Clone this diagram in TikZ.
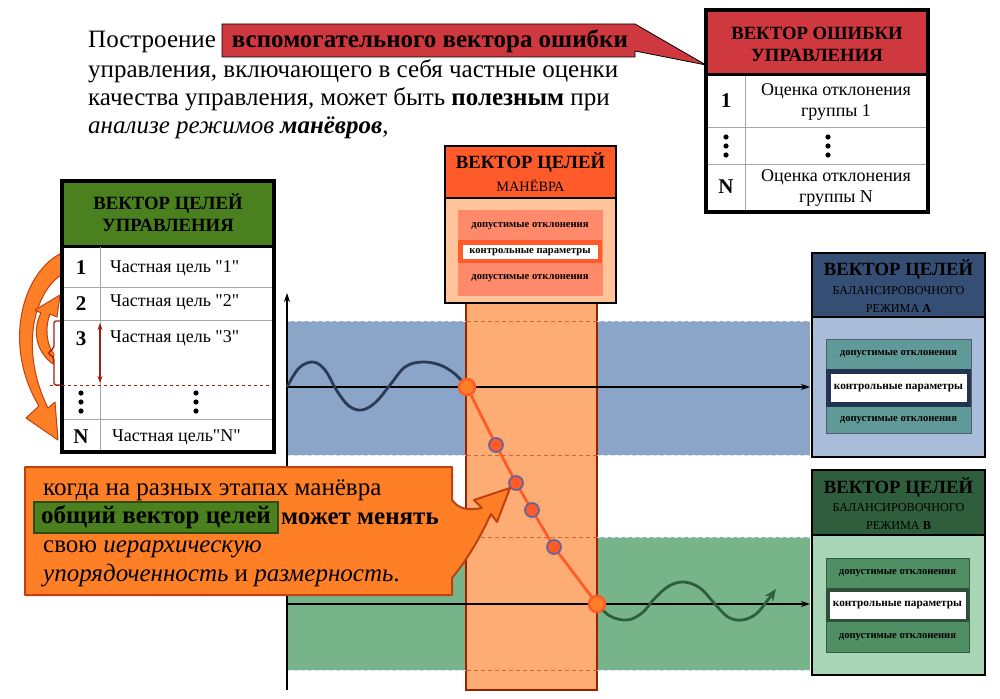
\documentclass[tikz,border=0pt]{standalone}
\usepackage{fontspec}
\setmainfont{Liberation Serif}
\usetikzlibrary{arrows.meta,calc}
\definecolor{blueband}{HTML}{8AA5C8}
\definecolor{greenband}{HTML}{78B48A}
\definecolor{colfill}{HTML}{FDAD74}
\definecolor{colborder}{HTML}{9B2200}
\definecolor{orA}{HTML}{FF7F27}
\definecolor{redor}{HTML}{FF5A2A}
\definecolor{peach}{HTML}{FFC499}
\definecolor{salmon}{HTML}{FF8A6B}
\definecolor{navywave}{HTML}{2B3A55}
\definecolor{greenwave}{HTML}{2E5E3C}
\definecolor{hdrgreen}{HTML}{4A801E}
\definecolor{errred}{HTML}{D0383F}
\definecolor{Ahdr}{HTML}{354E73}
\definecolor{Abody}{HTML}{A9BDD9}
\definecolor{Ateal}{HTML}{5F9A98}
\definecolor{Adark}{HTML}{233452}
\definecolor{Bhdr}{HTML}{2F5E3D}
\definecolor{Bbody}{HTML}{A8D5B5}
\definecolor{Binner}{HTML}{4F8F63}
\definecolor{Bdark}{HTML}{2F4F3A}
\definecolor{brown}{HTML}{A02010}
\definecolor{arrowedge}{HTML}{C0400F}
\newcommand\qd{\textquotedbl}
\tikzset{
  big/.style={font=\fontsize{25}{28}\selectfont, inner sep=0pt},
  bigb/.style={font=\bfseries\fontsize{25}{28}\selectfont, inner sep=0pt},
  hdr/.style={font=\bfseries\fontsize{18.7}{22}\selectfont, align=center, inner sep=0pt},
  cell/.style={font=\fontsize{18}{20}\selectfont, inner sep=0pt},
  cellc/.style={font=\fontsize{18}{21.5}\selectfont, align=center, inner sep=0pt},
  num/.style={font=\bfseries\fontsize{21}{22}\selectfont, inner sep=0pt},
  sub/.style={font=\fontsize{12.2}{14}\selectfont, inner sep=0pt},
  tinyd/.style={font=\bfseries\fontsize{10.6}{12}\selectfont, inner sep=0pt},
  tinyc/.style={font=\bfseries\fontsize{11.3}{13}\selectfont, inner sep=0pt},
  axis/.style={line width=1.1pt, -{Stealth[length=9pt,width=6pt]}},
  midpt/.style={circle, fill=redor, draw=gray!80!blue, line width=1.8pt, minimum size=14pt, inner sep=0pt},
  endpt/.style={circle, fill=orA, draw=redor, line width=2.5pt, minimum size=16pt, inner sep=0pt},
  thinrule/.style={draw=gray!70, line width=0.8pt},
  bandedge/.style={line width=0.7pt, dash pattern=on 4pt off 3pt}
}
\begin{document}
\begin{tikzpicture}[x=1pt,y=-1pt]
\useasboundingbox[fill=white] (0,0) rectangle (1000,698);

% ---------- bands ----------
\fill[blueband] (287,321) rectangle (810,455);
\fill[greenband] (287,537) rectangle (810,670);
% ---------- maneuver column ----------
\draw[fill=colfill, draw=colborder, line width=2pt] (466,300) rectangle (597,690);
% band edges
\foreach \yy in {321,455,537,670}{
  \draw[bandedge, white!85!blue] (287,\yy) -- (466,\yy);
  \draw[bandedge, white!85!blue] (597,\yy) -- (810,\yy);
  \draw[bandedge, colborder!50!colfill] (467,\yy) -- (596,\yy);
}
% ---------- axes ----------
\coordinate (O) at (287,690);
\coordinate (ytop) at (287,293);
\coordinate (a1s) at (287,387);
\coordinate (a1e) at (810,387);
\coordinate (a2s) at (287,604);
\coordinate (a2e) at (810,604);
\draw[axis] (O) -- (ytop);
\draw[axis] (a1s) -- (a1e);
\draw[axis] (a2s) -- (a2e);
% ---------- waves ----------
\draw[navywave, line width=2.8pt] plot[smooth, tension=0.6] coordinates {(287,387) (299,368) (313,362) (325,370) (337,391) (349,406) (362,410) (376,402) (390,385) (405,367) (422,362) (440,365) (455,374) (467,387)};
\draw[greenwave, line width=2.8pt, -{Stealth[length=12pt,width=10pt]}] plot[smooth, tension=0.6] coordinates {(597,604) (610,616) (627,620) (642,613) (655,598) (669,586) (684,582) (700,588) (714,603) (728,617) (742,620) (756,614) (767,601) (776,589)};
% ---------- trajectory points ----------
\coordinate (c0) at (467,387);
\coordinate (c1) at (496,445);
\coordinate (c2) at (516,483);
\coordinate (c3) at (532,510);
\coordinate (c4) at (554,547);
\coordinate (c5) at (597,604);
\draw[redor, line width=2.8pt] (c0) -- (c1) -- (c2) -- (c3) -- (c4) -- (c5);
\node[endpt] (p0) at (c0) {};
\node[midpt] (p1) at (c1) {};
\node[midpt] (p2) at (c2) {};
\node[midpt] (p3) at (c3) {};
\node[midpt] (p4) at (c4) {};
\node[endpt] (p5) at (c5) {};

% ---------- maneuver goal vector box ----------
\draw[fill=redor, line width=2.5pt] (445,146) rectangle (616,198);
\draw[fill=peach, line width=2.5pt] (445,198) rectangle (616,303);
\node[hdr] (mh) at (530.5,163) {ВЕКТОР ЦЕЛЕЙ};
\node[inner sep=0pt, font=\fontsize{14.3}{16}\selectfont] (mh2) at (530.5,186) {МАНЁВРА};
\draw[fill=salmon, draw=redor!70!white, line width=1pt] (458,210) rectangle (602,295);
\fill[redor] (458,240) rectangle (602,263);
\fill[white] (463,245) rectangle (598,259);
\node[tinyd] (m1) at (530,226) {допустимые отклонения};
\node[tinyd] (m2) at (530,252) {контрольные параметры};
\node[tinyd] (m3) at (530,278) {допустимые отклонения};

% ---------- balance vector A ----------
\draw[fill=Abody, line width=2.5pt] (812,253) rectangle (985,457);
\draw[fill=Ahdr, line width=2.5pt] (812,253) rectangle (985,317);
\node[hdr] (ah) at (898.5,270) {ВЕКТОР ЦЕЛЕЙ};
\node[sub] (ah2) at (898.5,291) {БАЛАНСИРОВОЧНОГО};
\node[sub] (ah3) at (898.5,308) {РЕЖИМА \textbf{A}};
\draw[fill=Ateal, draw=Adark!80, line width=1pt] (826,339) rectangle (971,433);
\fill[Adark] (826,369) rectangle (971,407);
\fill[white] (831,374) rectangle (967,402);
\node[tinyd] (a1) at (898.5,354) {допустимые отклонения};
\node[tinyc] (a2) at (898.5,388) {контрольные параметры};
\node[tinyd] (a3) at (898.5,420) {допустимые отклонения};

% ---------- balance vector B ----------
\draw[fill=Bbody, line width=2.5pt] (812,470) rectangle (985,675);
\draw[fill=Bhdr, line width=2.5pt] (812,470) rectangle (985,535);
\node[hdr] (bh) at (898.5,488) {ВЕКТОР ЦЕЛЕЙ};
\node[sub] (bh2) at (898.5,508) {БАЛАНСИРОВОЧНОГО};
\node[sub] (bh3) at (898.5,525) {РЕЖИМА \textbf{B}};
\draw[fill=Binner, draw=Bhdr, line width=1pt] (826,558) rectangle (969,652);
\fill[Bdark] (826,588) rectangle (969,622);
\fill[white] (830,592) rectangle (966,619);
\node[tinyd] (b1) at (897.5,573) {допустимые отклонения};
\node[tinyc] (b2) at (897.5,605) {контрольные параметры};
\node[tinyd] (b3) at (897.5,637) {допустимые отклонения};

% ---------- callout ----------
\draw[fill=orA, draw=arrowedge, line width=2pt, line join=round]
  (25,467) -- (452,467) -- (452,500) .. controls (458,508) and (466,511) .. (482,508)
  -- (474,500) -- (510,488) -- (497,522) -- (491,514)
  .. controls (481,535) and (470,556) .. (452,578) -- (452,595) -- (25,595) -- cycle;
\node[big, anchor=base west] (k1) at (43,495) {когда на разных этапах манёвра};
\node[bigb, draw=hdrgreen!60!black, line width=2pt, fill=hdrgreen, anchor=north west, minimum width=244pt, minimum height=31pt] (gv) at (33,501) {общий вектор целей};
\node[bigb, anchor=base west] (k2) at (281,524) {может менять};
\node[big, anchor=base west] (k3) at (43,552) {свою \textit{иерархическую}};
\node[big, anchor=base west] (k4) at (43,581) {\textit{упорядоченность} и \textit{размерность}.};

% ---------- left curved arrows ----------
\draw[fill=orA, draw=arrowedge, line width=1pt, line join=round]
  (64,252) .. controls (22,270) and (2,345) .. (39,406) -- (26,418) -- (58,440) -- (55,402) -- (48,408)
  .. controls (20,352) and (32,292) .. (64,273) -- cycle;
\draw[fill=orA, draw=arrowedge, line width=1pt, line join=round]
  (53,364) .. controls (36,352) and (32,330) .. (41,313) -- (35,310) -- (60,295) -- (57,317) -- (50,314)
  .. controls (45,326) and (46,345) .. (54,354) -- cycle;
\draw[brown, line width=1.3pt, rounded corners=2pt]
  (61,321) -- (54,321) -- (54,348) -- (48,353) -- (54,358) -- (54,385) -- (61,385);

% ---------- goals table ----------
\draw[fill=white, line width=4pt] (62,181) rectangle (274,452);
\fill[hdrgreen] (64,183) rectangle (272,246);
\draw[line width=3pt] (62,246) -- (274,246);
\node[hdr] (gh) at (168,213) {ВЕКТОР ЦЕЛЕЙ\\УПРАВЛЕНИЯ};
\draw[thinrule] (64,287) -- (272,287);
\draw[thinrule] (64,320) -- (272,320);
\draw[thinrule] (64,419) -- (272,419);
\draw[thinrule] (100,247) -- (100,450);
\draw[brown, dashed, line width=0.9pt] (50,385) -- (272,385);
\draw[brown, line width=1.2pt, {Stealth[length=7pt,width=5pt]}-{Stealth[length=7pt,width=5pt]}] (100,323) -- (100,383);
\node[num] (g1n) at (81,268) {1};
\node[num] (g2n) at (81,304) {2};
\node[num] (g3n) at (81,339) {3};
\node[num] (gNn) at (81,437) {N};
\node[cell, anchor=west] (g1) at (110,268) {Частная цель \qd1\qd};
\node[cell, anchor=west] (g2) at (110,302) {Частная цель \qd2\qd};
\node[cell, anchor=west] (g3) at (110,338) {Частная цель \qd3\qd};
\node[cell, anchor=west] (gN) at (112,437) {Частная цель\qd N\qd};
\foreach \cx/\cy in {81/402, 196/402}{
  \foreach \d in {-9,0,9}{\fill (\cx,\cy+\d) circle (2.6pt);}
}

% ---------- error table ----------
\draw[fill=white, line width=4pt] (706,10) rectangle (928,212);
\fill[errred] (708,12) rectangle (926,75);
\draw[line width=3pt] (706,75) -- (928,75);
\node[hdr] (eh) at (817,44) {ВЕКТОР ОШИБКИ\\УПРАВЛЕНИЯ};
\draw[thinrule] (708,127) -- (926,127);
\draw[thinrule] (708,164) -- (926,164);
\draw[thinrule] (745,76) -- (745,210);
\node[num] (e1n) at (726,101) {1};
\node[num] (eNn) at (726,187) {N};
\node[cellc] (e1) at (836,102) {Оценка отклонения\\группы 1};
\node[cellc] (eN) at (836,188) {Оценка отклонения\\группы N};
\foreach \cx/\cy in {726/146, 828/146}{
  \foreach \d in {-9,0,9}{\fill (\cx,\cy+\d) circle (2.6pt);}
}

% ---------- top paragraph ----------
\draw[fill=errred, draw=black, line width=0.8pt, line join=miter]
  (222,24) -- (635,24) -- (706,65) -- (635,51) -- (635,57) -- (222,57) -- cycle;
\node[big, anchor=base west] (t1) at (88,48) {Построение};
\node[bigb, anchor=base] (tr) at (430,48) {вспомогательного вектора ошибки};
\node[big, anchor=base west] (t2) at (88,78) {управления, включающего в себя частные оценки};
\node[big, anchor=base west] (t3) at (88,106) {качества управления, может быть \textbf{полезным} при};
\node[big, anchor=base west] (t4) at (88,133) {\textit{анализе режимов} \textbf{\textit{манёвров}},};
\end{tikzpicture}
\end{document}
